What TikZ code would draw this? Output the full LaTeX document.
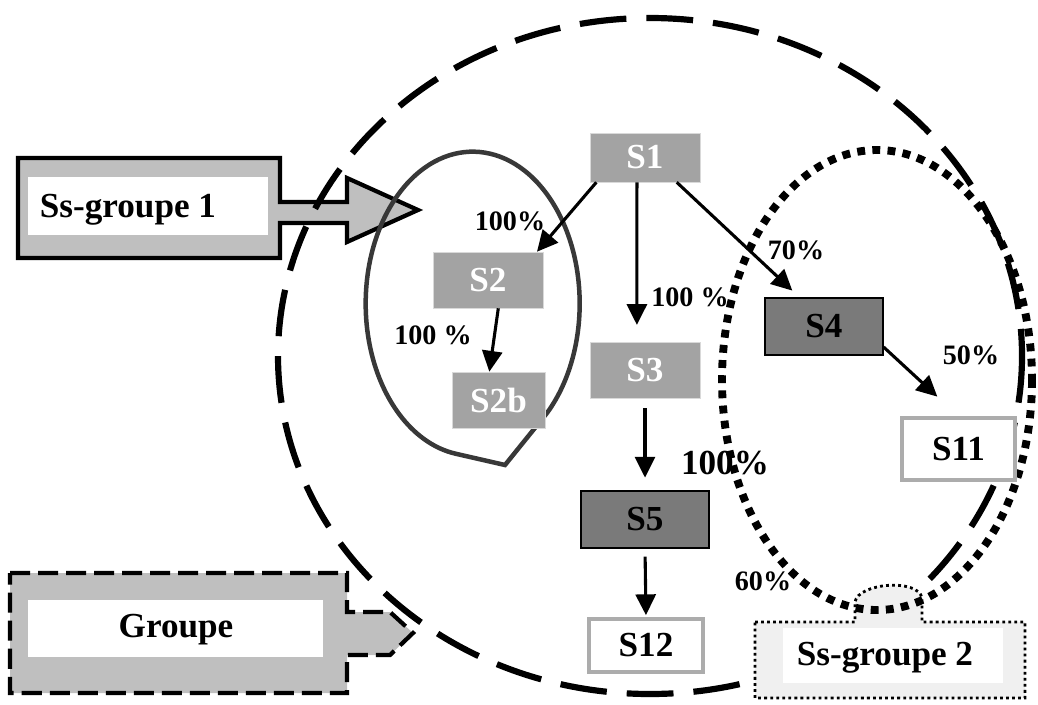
\documentclass[tikz,border=0pt]{standalone}
\usepackage{fontspec}
\setmainfont{Liberation Serif}
\usetikzlibrary{arrows.meta}

\begin{document}
\begin{tikzpicture}[x=0.025cm, y=-0.025cm,
  sbox/.style={rectangle, inner sep=0pt, font=\fontsize{25}{28}\selectfont\bfseries},
  grain/.style={sbox, fill=gray!72, draw=gray!30, text=white},
  dark/.style={sbox, fill=black!52, draw=black, line width=0.8pt},
  leaf/.style={sbox, fill=white, draw=gray!65, line width=2.6pt},
  pct/.style={inner sep=0pt, font=\fontsize{20}{24}\selectfont\bfseries},
  flow/.style={-{Triangle[length=0.52cm, width=0.5cm]}, line width=2.2pt},
  tag/.style={inner sep=0pt, font=\fontsize{25}{28}\selectfont\bfseries},
  hatch/.style={fill=gray!50, line width=3pt}]
  \useasboundingbox (0,0) rectangle (1038,704);

  % sub-group 1 arrow
  \draw[hatch] (18,158) -- (280,158) -- (280,202) -- (347,202) -- (347,178) -- (418,210)
    -- (347,242) -- (347,223) -- (280,223) -- (280,258) -- (18,258) -- cycle;
  \fill[white] (28,177) rectangle (268,235);
  \node[tag] (sg1) at (128,210) {Ss-groupe 1};

  % group arrow
  \draw[hatch, dash pattern=on 0.5cm off 0.2cm] (10,573) -- (347,573) -- (347,612) -- (390,612)
    -- (413,633) -- (390,655) -- (347,655) -- (347,693) -- (10,693) -- cycle;
  \fill[white] (28,600) rectangle (323,657);
  \node[tag] (grp) at (176,630) {Groupe};

  % group
  \draw[line width=4.4pt, dash pattern=on 1.17cm off 0.5cm] (650,356) ellipse [x radius=372, y radius=338];

  % sub-group 2 box
  \draw[fill=gray!12, line width=2pt, dash pattern=on 2pt off 2.3pt] (755,622) -- (855,622) -- (855,602)
    .. controls (858,583) and (918,578) .. (922,598) -- (922,622) -- (1025,622) -- (1025,698) -- (755,698) -- cycle;
  \fill[white] (783,628) rectangle (1003,683);
  \node[tag] (sg2) at (885,658) {Ss-groupe 2};

  % sub-groups
  \draw[line width=3.2pt, black!78] (547,413) arc[start angle=46, end angle=-261, x radius=107, y radius=152]
    -- (505,465) -- cycle;
  \draw[line width=5.6pt, dash pattern=on 5.6pt off 5.2pt] (877,380) ellipse [x radius=155, y radius=230];

  % states
  \node[grain, minimum width=2.75cm, minimum height=1.225cm] (s1) at (645,157.5) {S1};
  \node[grain, minimum width=2.75cm, minimum height=1.4cm] (s2) at (488,280) {S2};
  \node[grain, minimum width=2.325cm, minimum height=1.4cm] (s2b) at (498.5,400) {S2b};
  \node[grain, minimum width=2.75cm, minimum height=1.4cm] (s3) at (645,370) {S3};
  \node[dark, minimum width=2.95cm, minimum height=1.425cm] (s4) at (824,326.5) {S4};
  \node[dark, minimum width=3.2cm, minimum height=1.425cm] (s5) at (645,519.5) {S5};
  \node[leaf, minimum width=2.825cm, minimum height=1.55cm] (s11) at (958.5,449) {S11};
  \node[leaf, minimum width=2.85cm, minimum height=1.325cm] (s12) at (646,645.5) {S12};

  \draw[flow] (s1.207) -- (s2.30);
  \draw[flow, shorten >=0.42cm] (s1.-108) -- (s3.106);
  \draw[flow, shorten >=0.25cm] (s1.-38) -- (s4.130);
  \draw[flow] (s2.-70) -- (s2b.108);
  \draw[flow, shorten <=0.25cm, shorten >=0.32cm] (s3.south) -- (s5.north);
  \draw[flow, shorten <=0.2cm, shorten >=0.05cm] (s5.south) -- (s12.north);
  \draw[flow, shorten >=0.72cm] (s4.-19) -- (s11.north);

  % rates
  \node[pct] (p12) at (510,221) {100\%};
  \node[pct] (p13) at (690,297) {100 \%};
  \node[pct] (p22) at (433,335) {100 \%};
  \node[pct] (p14) at (796,250) {70\%};
  \node[pct] (p411) at (971,355) {50\%};
  \node[pct, font=\fontsize{25}{28}\selectfont\bfseries] (p35) at (725,463) {100\%};
  \node[pct] (p60) at (763,581) {60\%};
\end{tikzpicture}
\end{document}
